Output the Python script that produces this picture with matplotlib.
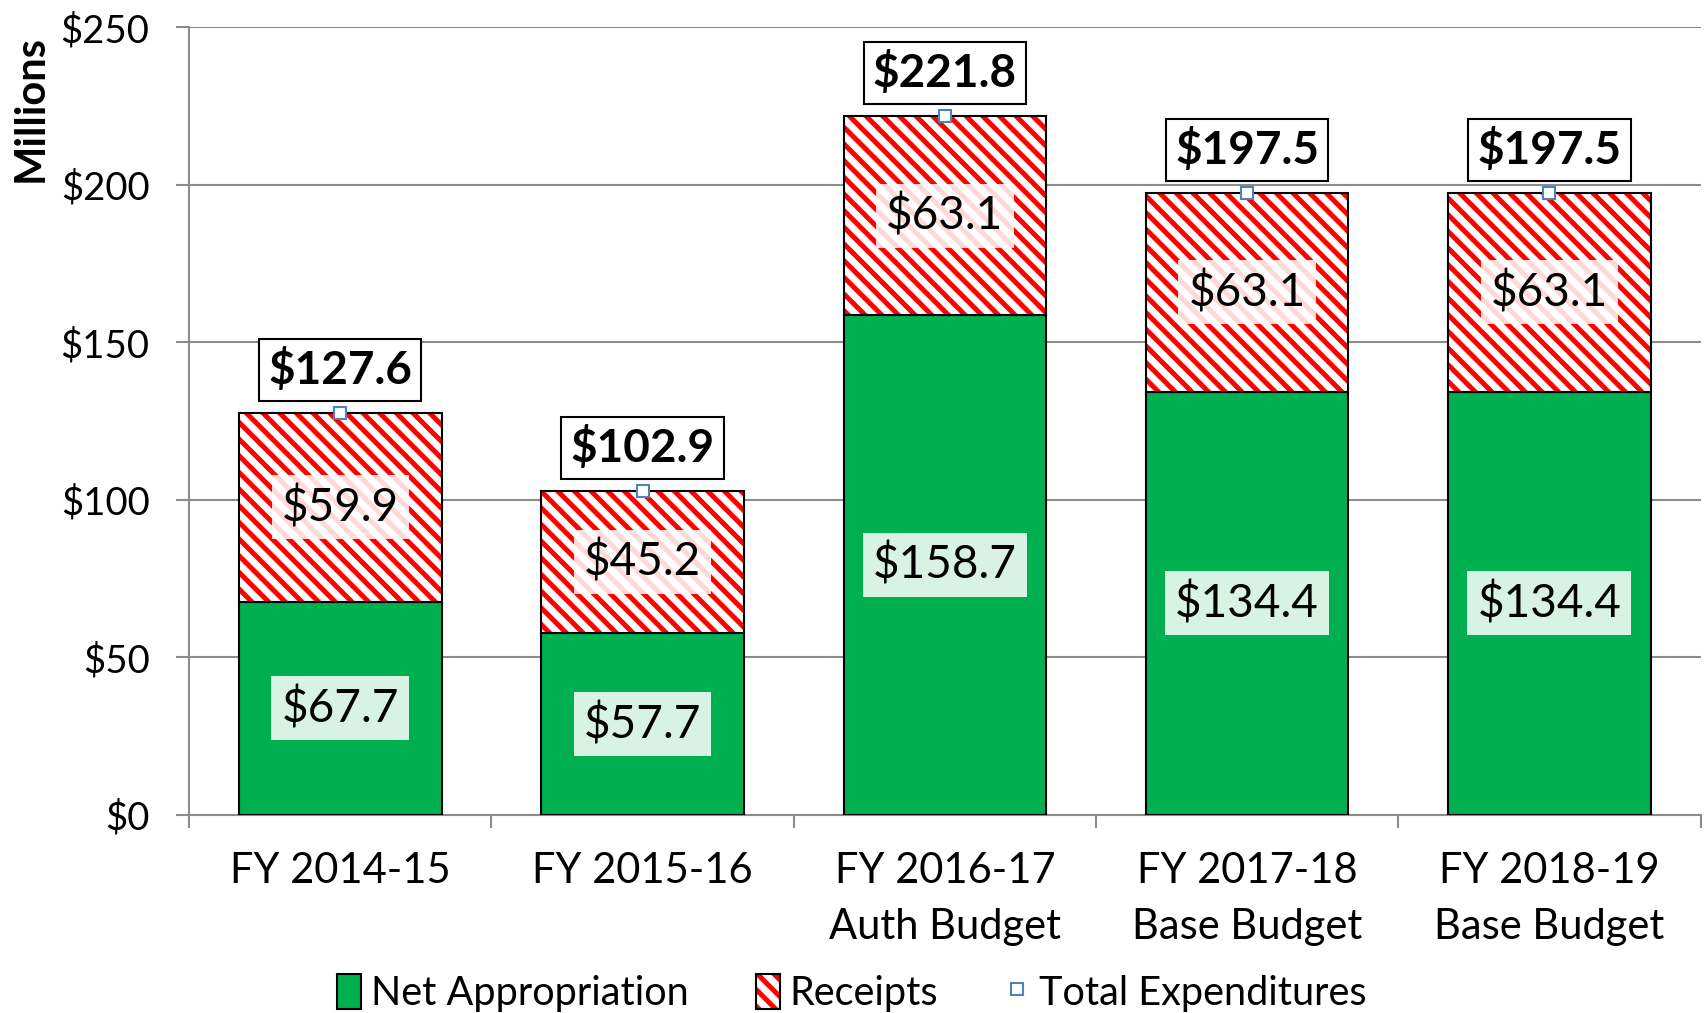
import matplotlib
matplotlib.use("Agg")
import matplotlib.pyplot as plt
from matplotlib.patches import Patch, Rectangle
from matplotlib.lines import Line2D
from matplotlib.legend_handler import HandlerBase
import numpy as np

categories = ["FY 2014-15", "FY 2015-16", "FY 2016-17\nAuth Budget",
              "FY 2017-18\nBase Budget", "FY 2018-19\nBase Budget"]
net_appropriation = [67.7, 57.7, 158.7, 134.4, 134.4]
receipts = [59.9, 45.2, 63.1, 63.1, 63.1]
total_expenditures = [127.6, 102.9, 221.8, 197.5, 197.5]
y_ticks = [0, 50, 100, 150, 200, 250]

plt.rcParams['font.family'] = ['Lato', 'DejaVu Sans']
plt.rcParams['hatch.linewidth'] = 3.6

GREEN = "#00b050"
RED = "#ff0000"
BLUE = "#4f81bd"


class HatchBoxHandler(HandlerBase):
    def create_artists(self, legend, orig_handle, xdescent, ydescent, width, height,
                       fontsize, trans):
        r1 = Rectangle((-xdescent, -ydescent), width, height, facecolor="white",
                       edgecolor=RED, hatch="\\\\", linewidth=0, transform=trans)
        r2 = Rectangle((-xdescent, -ydescent), width, height, fill=False,
                       edgecolor="black", linewidth=1.5, transform=trans)
        return [r1, r2]


fig = plt.figure(figsize=(17.04, 10.13), dpi=100)
ax = fig.add_axes([0.111, 0.1955, 0.887, 0.7775])

x = np.arange(len(categories))
w = 0.67
ax.bar(x, net_appropriation, w, color=GREEN, edgecolor="black", linewidth=1.5, zorder=3)
ax.bar(x, receipts, w, bottom=net_appropriation, facecolor="white", edgecolor=RED,
       hatch="\\\\", linewidth=0, zorder=3)
ax.bar(x, receipts, w, bottom=net_appropriation, fill=False, edgecolor="black",
       linewidth=1.5, zorder=4)
ax.plot(x, total_expenditures, linestyle="none", marker="s", markersize=9,
        markerfacecolor="white", markeredgecolor=BLUE, markeredgewidth=1.5, zorder=6)

for i in range(len(x)):
    ax.text(x[i], net_appropriation[i] / 2, f"${net_appropriation[i]:.1f}",
            ha="center", va="center", fontsize=33, zorder=7,
            bbox=dict(boxstyle="square,pad=0.22", facecolor="white", alpha=0.85, edgecolor="none"))
    ax.text(x[i], net_appropriation[i] + receipts[i] / 2, f"${receipts[i]:.1f}",
            ha="center", va="center", fontsize=33, zorder=7,
            bbox=dict(boxstyle="square,pad=0.22", facecolor="white", alpha=0.85, edgecolor="none"))
    ax.annotate(f"${total_expenditures[i]:.1f}", (x[i], total_expenditures[i]),
                xytext=(0, 31), textcoords="offset points", ha="center", va="center",
                fontsize=33, fontweight="bold", zorder=8,
                bbox=dict(boxstyle="square,pad=0.2", facecolor="white", edgecolor="black", linewidth=1.5))

ax.set_xlim(-0.5, len(x) - 0.5)
ax.set_ylim(0, 250)
ax.set_yticks(y_ticks)
ax.set_yticklabels([f"${v}" for v in y_ticks], fontsize=27.5)
ax.yaxis.grid(True, color="#8c8c8c", linewidth=1.5, zorder=0)
ax.set_axisbelow(True)
ax.set_xticks(x)
ax.set_xticklabels(categories, fontsize=30, linespacing=1.55)
ax.set_xticks(np.arange(-0.5, len(x), 1.0), minor=True)
ax.tick_params(axis="x", which="major", length=0, pad=27)
ax.tick_params(axis="x", which="minor", length=9.5, width=1.5, color="#8c8c8c", direction="out")
ax.tick_params(axis="y", length=9.5, width=1.5, color="#8c8c8c", direction="out", pad=19)
for s in ["top", "right"]:
    ax.spines[s].set_visible(False)
for s in ["left", "bottom"]:
    ax.spines[s].set_color("#8c8c8c")
    ax.spines[s].set_linewidth(1.5)

fig.text(0.018, 0.893, "Millions", rotation=90, ha="center", va="center",
         fontsize=30, fontweight="bold")

receipts_handle = Patch(facecolor="white", edgecolor="black")
handles = [
    Patch(facecolor=GREEN, edgecolor="black", linewidth=1.5),
    receipts_handle,
    Line2D([], [], linestyle="none", marker="s", markersize=9, markerfacecolor="white",
           markeredgecolor=BLUE, markeredgewidth=1.5),
]
leg = fig.legend(handles, ["Net Appropriation", "Receipts", "Total Expenditures"],
                 loc="center", bbox_to_anchor=(0.5, 0.02), ncol=3, frameon=False,
                 fontsize=28.5, handlelength=0.6, handleheight=1.0, handletextpad=0.25,
                 columnspacing=1.7, borderpad=0,
                 handler_map={receipts_handle: HatchBoxHandler()})

fig.savefig("out.png", dpi=100)
